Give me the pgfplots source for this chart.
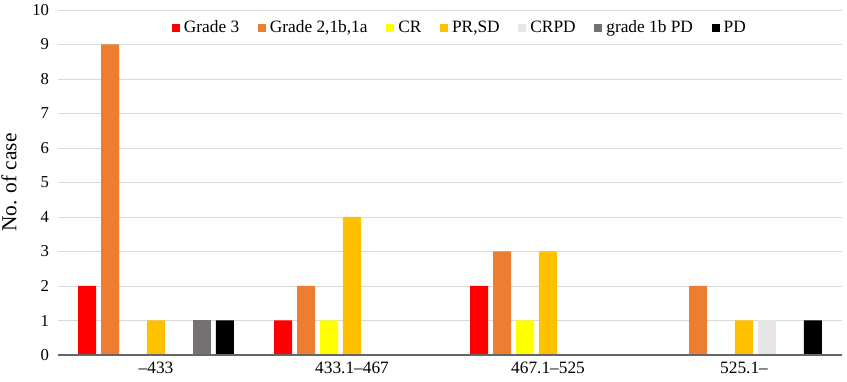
\documentclass[border=0pt]{standalone}
\usepackage{pgfplots}
\pgfplotsset{compat=1.18}
\usepackage{fontspec}
\setmainfont{Liberation Serif}
\definecolor{cG3}{HTML}{FF0000}
\definecolor{cG2}{HTML}{ED7D31}
\definecolor{cCR}{HTML}{FFFF00}
\definecolor{cPR}{HTML}{FFC000}
\definecolor{cCRPD}{HTML}{E7E6E6}
\definecolor{cG1b}{HTML}{767171}
\definecolor{cPD}{HTML}{000000}
\begin{document}
\fontsize{12}{14}\selectfont
\begin{tikzpicture}[x=1pt,y=1pt]
\begin{axis}[
  scale only axis,
  width=588pt, height=258.75pt,
  xmin=-0.5, xmax=3.5, ymin=0, ymax=10,
  ytick={0,1,...,10},
  xtick={0,1,2,3},
  xticklabels={–433, 433.1–467, 467.1–525, 525.1–},
  /pgf/number format/assume math mode=true,
  yticklabel style={font=\fontsize{12.5}{14}\selectfont, xshift=-2.5pt},
  xticklabel style={font=\fontsize{13}{15}\selectfont, yshift=-1pt},
  major tick length=0pt,
  axis line style={draw=none},
  ymajorgrids, grid style={draw=black!15, line width=0.6pt},
  ylabel={\fontsize{16}{18}\selectfont No. of case},
  ylabel style={at={(rel axis cs:-0.0625,0.5)}, anchor=center},
  ybar, bar width=0.092,
  legend columns=-1,
  legend style={at={(0.513,0.948)}, anchor=center, draw=none, fill=white,
    font=\fontsize{13}{15}\selectfont, /tikz/every even column/.append style={column sep=12pt},
    /tikz/every odd column/.append style={column sep=1pt}},
  legend image code/.code={\fill[#1] (0pt,-3pt) rectangle (6pt,3pt);},
  clip=false,
]
\addplot[fill=cG3, draw=none, bar shift=-0.351] coordinates {(0,2) (1,1) (2,2)};
\addlegendentry{Grade 3}
\addplot[fill=cG2, draw=none, bar shift=-0.234] coordinates {(0,9) (1,2) (2,3) (3,2)};
\addlegendentry{Grade 2,1b,1a}
\addplot[fill=cCR, draw=none, bar shift=-0.117] coordinates {(1,1) (2,1)};
\addlegendentry{CR}
\addplot[fill=cPR, draw=none, bar shift=0] coordinates {(0,1) (1,4) (2,3) (3,1)};
\addlegendentry{PR,SD}
\addplot[fill=cCRPD, draw=none, bar shift=0.117] coordinates {(3,1)};
\addlegendentry{CRPD}
\addplot[fill=cG1b, draw=none, bar shift=0.234] coordinates {(0,1)};
\addlegendentry{grade 1b PD}
\addplot[fill=cPD, draw=none, bar shift=0.351] coordinates {(0,1) (3,1)};
\addlegendentry{PD}
\draw[black!60, line width=0.8pt] (rel axis cs:0,0) -- (rel axis cs:1,0);
\coordinate (sw) at (rel axis cs:0,0);
\coordinate (ne) at (rel axis cs:1,1);
\end{axis}
\pgfresetboundingbox
\path ([shift={(-43.5pt,-19.5pt)}]sw) rectangle ([shift={(3.75pt,7.5pt)}]ne);
\end{tikzpicture}
\end{document}
